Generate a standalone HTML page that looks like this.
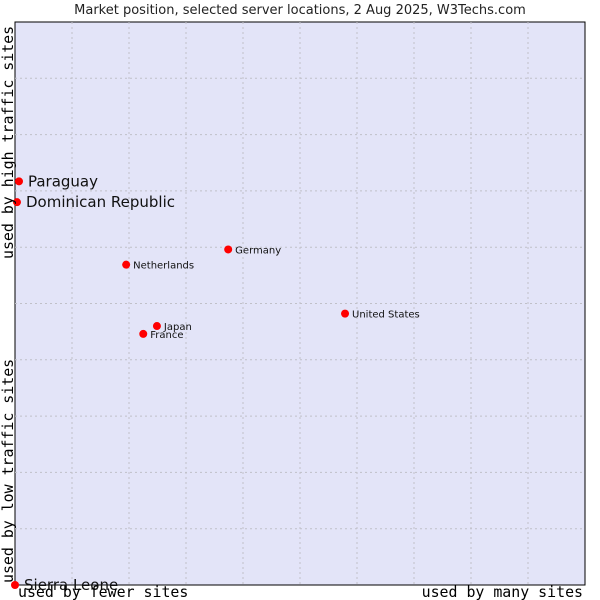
<!DOCTYPE html>
<html><head><meta charset="utf-8"><style>
body{margin:0;background:#fff;}
svg{display:block;font-family:"DejaVu Sans","Liberation Sans",sans-serif;}
</style></head><body>
<svg id="c" width="600" height="600">
<text x="300" y="14" text-anchor="middle" font-size="13" fill="#222">Market position, selected server locations, 2 Aug 2025, W3Techs.com</text>
<rect x="15" y="22" width="570" height="563" fill="#e3e4f8" stroke="#000" stroke-width="1"/>
<g id="grid"></g>
<g id="pts"></g>
<text transform="translate(13,259) rotate(-90)" font-family="DejaVu Sans Mono,Liberation Mono,monospace" font-size="14.9" fill="#000">used by high traffic sites</text>
<text transform="translate(13,583) rotate(-90)" font-family="DejaVu Sans Mono,Liberation Mono,monospace" font-size="14.9" fill="#000">used by low traffic sites</text>
<text x="18" y="597" font-family="DejaVu Sans Mono,Liberation Mono,monospace" font-size="14.9" fill="#000">used by fewer sites</text>
<text x="583" y="597" text-anchor="end" font-family="DejaVu Sans Mono,Liberation Mono,monospace" font-size="14.9" fill="#000">used by many sites</text>
</svg>
<script>
const countries=["Paraguay","Dominican Republic","Germany","Netherlands","United States","Japan","France","Sierra Leone"];
const xValues=[0.7,0.35,37.4,19.5,57.9,24.9,22.5,0];
const yValues=[71.7,68.0,59.6,56.9,48.2,46.0,44.6,0];
const bigLabel=[true,true,false,false,false,false,false,true];
const NS="http://www.w3.org/2000/svg";
const X=v=>15+v*5.7, Y=v=>585-v*5.63;
const grid=document.getElementById('grid');
for(let i=1;i<10;i++){
  const l=document.createElementNS(NS,'line');
  l.setAttribute('x1',X(i*10));l.setAttribute('x2',X(i*10));l.setAttribute('y1',22);l.setAttribute('y2',585);
  l.setAttribute('stroke','#c0c0c8');l.setAttribute('stroke-dasharray','2,3');
  
  
  grid.appendChild(l);
  const h=document.createElementNS(NS,'line');
  h.setAttribute('y1',Y(i*10));h.setAttribute('y2',Y(i*10));h.setAttribute('x1',15);h.setAttribute('x2',585);
  h.setAttribute('stroke','#c0c0c8');h.setAttribute('stroke-dasharray','2,3');
  
  
  grid.appendChild(h);
}
const pts=document.getElementById('pts');
countries.forEach((c,i)=>{
  const x=X(xValues[i]),y=Y(yValues[i]);
  const d=document.createElementNS(NS,'circle');
  d.setAttribute('cx',x);d.setAttribute('cy',y);d.setAttribute('r',4);
  d.setAttribute('fill','#f00');
  
  
  pts.appendChild(d);
  const t=document.createElementNS(NS,'text');
  t.setAttribute('x',x+(bigLabel[i]?9:7));
  t.setAttribute('y',y+(bigLabel[i]?5:4));
  t.setAttribute('font-size',bigLabel[i]?15:10);
  t.setAttribute('fill','#111');
  t.textContent=c;
  
  
  pts.appendChild(t);
});
</script>
</body></html>
